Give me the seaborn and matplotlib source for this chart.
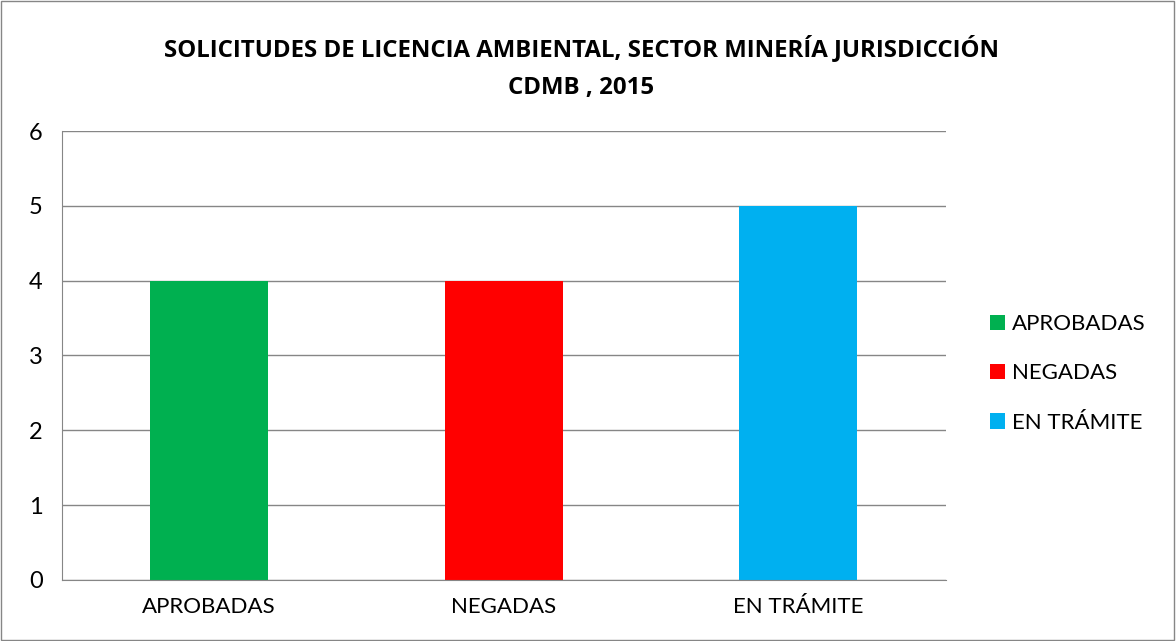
import matplotlib
matplotlib.use('Agg')
import matplotlib.pyplot as plt
import seaborn as sns
import pandas as pd
from matplotlib.ticker import FixedLocator

# datos
categorias = ['APROBADAS', 'NEGADAS', 'EN TRÁMITE']
solicitudes = [4, 4, 5]
colores = ['#00B050', '#FF0000', '#00B0F0']

df = pd.DataFrame({'estado': categorias, 'cantidad': solicitudes})

sns.set_style('white')
plt.rcParams['font.family'] = ['Lato', 'DejaVu Sans']
plt.rcParams['text.color'] = 'black'
plt.rcParams['xtick.labelcolor'] = 'black'
plt.rcParams['ytick.labelcolor'] = 'black'

fig = plt.figure(figsize=(11.76, 6.41), dpi=100)
ax = fig.add_axes([0.0527, 0.0952, 0.7513, 0.7004])

sns.barplot(data=df, x='estado', y='cantidad', hue='estado', order=categorias,
            hue_order=categorias, palette=colores, width=0.4, saturation=1,
            dodge=False, legend=True, linewidth=0, ax=ax)

ax.set_ylim(0, 6)
ax.set_xlim(-0.5, 2.5)
ax.set_yticks(range(0, 7))
ax.yaxis.grid(True, color='#868686', linewidth=1)
ax.set_axisbelow(True)
for s in ['top', 'right']:
    ax.spines[s].set_visible(False)
for s in ['left', 'bottom']:
    ax.spines[s].set_color('#868686')
ax.tick_params(axis='y', length=6, color='#868686', labelsize=17, pad=8)
ax.tick_params(axis='x', which='major', length=0, labelsize=16, pad=12)
ax.xaxis.set_minor_locator(FixedLocator([-0.5, 0.5, 1.5, 2.5]))
ax.tick_params(axis='x', which='minor', length=6, color='#868686')
ax.set_xlabel('')
ax.set_ylabel('')

leg = ax.legend(loc='center left', bbox_to_anchor=(1.04, 0.46), frameon=False,
                borderaxespad=0, fontsize=16, handlelength=0.68, handleheight=0.68,
                handletextpad=0.3, labelspacing=1.32)

fig.text(0.4945, 0.895,
         'SOLICITUDES DE LICENCIA AMBIENTAL, SECTOR MINERÍA JURISDICCIÓN\nCDMB , 2015',
         ha='center', va='center', fontsize=17.3, fontweight='bold', color='black',
         linespacing=1.75, family=['Open Sans', 'DejaVu Sans'])

fig.patches.append(plt.Rectangle((0.001, 0.002), 0.997, 0.996, transform=fig.transFigure,
                                 fill=False, edgecolor='#868686', linewidth=1))

fig.savefig('out.png', dpi=100)
